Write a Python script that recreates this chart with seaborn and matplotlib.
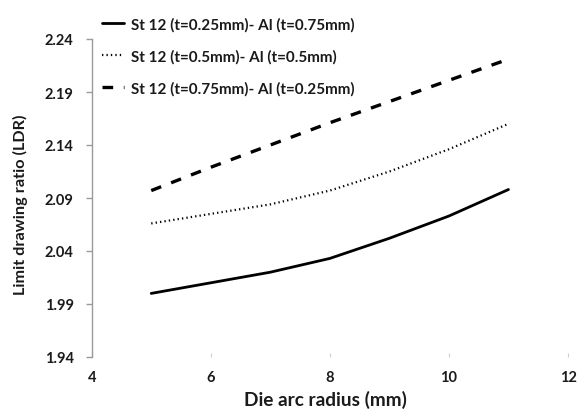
import matplotlib
matplotlib.use("Agg")
import matplotlib.pyplot as plt
import seaborn as sns
import pandas as pd

radius = [5, 6, 7, 8, 9, 10, 11]
ldr_a = [2.000, 2.010, 2.020, 2.033, 2.052, 2.073, 2.098]
ldr_b = [2.066, 2.075, 2.084, 2.097, 2.115, 2.136, 2.160]
ldr_c = [2.097, 2.119, 2.140, 2.161, 2.181, 2.201, 2.221]
series_names = ["St 12 (t=0.25mm)- Al (t=0.75mm)",
                "St 12 (t=0.5mm)- Al (t=0.5mm)",
                "St 12 (t=0.75mm)- Al (t=0.25mm)"]
x_ticks = [4, 6, 8, 10, 12]
y_ticks = [1.94, 1.99, 2.04, 2.09, 2.14, 2.19, 2.24]

rows = []
for name, vals in zip(series_names, [ldr_a, ldr_b, ldr_c]):
    for r, v in zip(radius, vals):
        rows.append({"radius": r, "ldr": v, "series": name})
df = pd.DataFrame(rows)

sns.set_style("white")
plt.rcParams['font.family'] = ['Lato', 'DejaVu Sans']

fig = plt.figure(figsize=(5.82, 4.10), dpi=100)
ax = fig.add_axes([91.7/582, 1-358/410, (568-91.7)/582, (358-40)/410])

dash_map = {series_names[0]: "", series_names[1]: (0.6, 1.4), series_names[2]: (3.2, 3.2)}
lw_map = {series_names[0]: 2.0, series_names[1]: 1.6, series_names[2]: 2.4}
for name in series_names:
    sub = df[df["series"] == name]
    sns.lineplot(data=sub, x="radius", y="ldr", ax=ax, color="black",
                 linewidth=lw_map[name], label=name)
    line = ax.get_lines()[-1]
    if dash_map[name]:
        line.set_dashes(dash_map[name])

ax.set_xlim(4, 12)
ax.set_ylim(1.94, 2.24)
ax.set_xticks(x_ticks)
ax.set_yticks(y_ticks)
ax.set_xticklabels([str(t) for t in x_ticks], fontsize=10.5, fontweight='bold', color='#1a1a1a')
ax.set_yticklabels([f"{t:.2f}" for t in y_ticks], fontsize=10.5, fontweight='bold', color='#1a1a1a')

for s in ["top", "right", "bottom"]:
    ax.spines[s].set_visible(False)
ax.spines["left"].set_color("#9a9a9a")
ax.spines["left"].set_linewidth(1.0)
ax.tick_params(axis='y', direction='out', length=4, width=1, color='#9a9a9a', pad=9, left=True)
ax.tick_params(axis='x', direction='in', length=3, width=0.8, color='#cfcfcf', pad=9.5, bottom=True)

ax.set_xlabel("Die arc radius (mm)", fontsize=13.7, fontweight='bold', color='#1a1a1a')
ax.set_ylabel("Limit drawing ratio (LDR)", fontsize=11.7, fontweight='bold', color='#1a1a1a')
ax.xaxis.set_label_coords(0.49, -0.105)
ax.yaxis.set_label_coords(-0.134, 0.481)

leg = ax.legend(loc='upper left', bbox_to_anchor=(102/582, 1-18/410),
                bbox_transform=fig.transFigure, frameon=False,
                fontsize=11, handlelength=1.45, handletextpad=0.45,
                labelspacing=1.15, borderpad=0, borderaxespad=0)
for t in leg.get_texts():
    t.set_fontweight('bold')
    t.set_color('#1a1a1a')

fig.savefig("out.png", dpi=100)
